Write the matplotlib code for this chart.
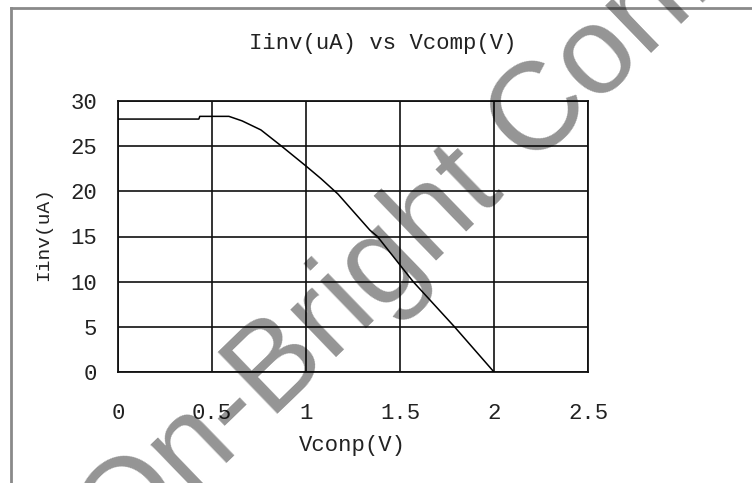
import matplotlib
matplotlib.use("Agg")
import matplotlib.pyplot as plt
from matplotlib.lines import Line2D

# data
vcomp = [0.0, 0.43, 0.435, 0.59, 0.66, 0.76, 0.87, 1.0, 1.08, 1.17, 1.34, 1.38, 1.57, 1.79, 2.0]
iinv = [28.0, 28.0, 28.3, 28.3, 27.8, 26.8, 25.0, 22.8, 21.4, 19.7, 15.7, 15.0, 10.0, 5.0, 0.0]
x_ticks = [0, 0.5, 1, 1.5, 2, 2.5]
x_tick_labels = ["0", "0.5", "1", "1.5", "2", "2.5"]
y_ticks = [0, 5, 10, 15, 20, 25, 30]
y_tick_labels = ["0", "5", "10", "15", "20", "25", "30"]
title = "Iinv(uA) vs Vcomp(V)"
xlabel = "Vconp(V)"
ylabel = "Iinv(uA)"
watermark = "On-Bright Confidential"

W, H = 752, 483
fig = plt.figure(figsize=(W / 100, H / 100), dpi=100)
fig.patch.set_facecolor("white")
mono = "Liberation Mono"

ax = fig.add_axes([118 / W, 1 - 372 / H, (588 - 118) / W, (372 - 101) / H])
ax.plot(vcomp, iinv, color="black", lw=1.1, zorder=3)
ax.set_xlim(0, 2.5)
ax.set_ylim(0, 30)
ax.set_xticks(x_ticks)
ax.set_xticklabels(x_tick_labels, fontfamily=mono, fontsize=16)
ax.set_yticks(y_ticks)
ax.set_yticklabels(y_tick_labels, fontfamily=mono, fontsize=16)
ax.tick_params(axis="both", length=0, colors="#222222")
ax.tick_params(axis="x", pad=22)
ax.tick_params(axis="y", pad=15)
ax.grid(True, color="#111111", lw=1.2)
for s in ax.spines.values():
    s.set_color("#111111")
    s.set_linewidth(1.3)

fig.text(383 / W, 1 - 44 / H, title, fontfamily=mono, fontsize=16,
         ha="center", va="center", color="#222222")
fig.text(352 / W, 1 - 446 / H, xlabel, fontfamily=mono, fontsize=16,
         ha="center", va="center", color="#222222")
fig.text(44 / W, 1 - 234 / H, ylabel, fontfamily=mono, fontsize=14,
         ha="center", va="center", rotation=90, color="#222222")

# outer frame (top and left visible)
fig.add_artist(Line2D([11 / W, 1.0], [1 - 8 / H, 1 - 8 / H], transform=fig.transFigure,
                      color="#8a8a8a", lw=2))
fig.add_artist(Line2D([11 / W, 11 / W], [1 - 8 / H, 0.0], transform=fig.transFigure,
                      color="#8a8a8a", lw=2))

# watermark
fig.text(121 / W, 1 - 565 / H, watermark, fontfamily="Liberation Sans", fontsize=90,
         rotation=44, rotation_mode="anchor", ha="left", va="baseline",
         color="black", alpha=0.42, zorder=10)

fig.savefig("out.png", dpi=100, facecolor="white")
